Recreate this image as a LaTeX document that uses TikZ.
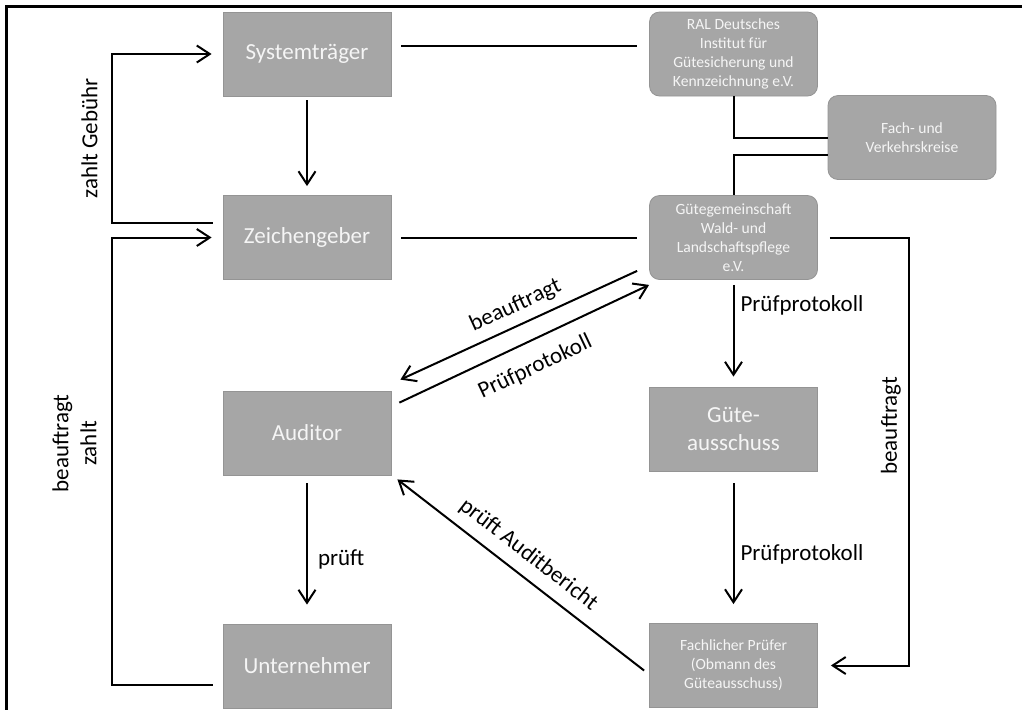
\documentclass[tikz,border=0pt]{standalone}
\usepackage{fontspec}
\setmainfont{Carlito}
\usetikzlibrary{arrows.meta}
\definecolor{boxgray}{HTML}{A6A6A6}
\definecolor{boxline}{HTML}{949494}
\definecolor{boxtext}{HTML}{F5F5F5}
\newcommand{\bigtxt}{\fontsize{11.5}{14}\selectfont}
\newcommand{\smalltxt}{\fontsize{7.8}{9.45}\selectfont}
\begin{document}
\begin{tikzpicture}[x=0.5pt,y=-0.5pt,
    box/.style={draw=boxline,fill=boxgray,text=boxtext,minimum width=84pt,
      minimum height=42pt,inner sep=0pt,align=center,font=\bigtxt},
    rbox/.style={box,rounded corners=5pt,font=\smalltxt},
    ln/.style={line width=1pt},
    arr/.style={ln,-{Straight Barb[length=6.5pt,width=8.5pt]}},
    lbl/.style={font=\bigtxt,text=black}]
  \useasboundingbox (0,0) rectangle (1022,709);
  \clip (0,0) rectangle (1022,709);
  \draw[line width=1.4pt] (6.5,6.5) rectangle (1040,730);
  \draw
    (307,54) node[box] (sys) {Systemträger}
    (307,237.5) node[box] (zei) {Zeichengeber}
    (307,433) node[box] (aud) {Auditor}
    (307,666) node[box] (unt) {Unternehmer}
    (733.5,54) node[rbox] (ral) {RAL Deutsches\\Institut für\\Gütesicherung und\\Kennzeichnung e.V.}
    (912,137.5) node[rbox] (fach) {Fach- und\\Verkehrskreise}
    (733.5,237.5) node[rbox] (gg) {Gütegemeinschaft\\Wald- und\\Landschaftspflege\\e.V.}
    (733.5,429) node[box] (ga) {Güte-\\ausschuss}
    (733.5,665.5) node[box,font=\smalltxt] (fp) {Fachlicher Prüfer\\(Obmann des\\Güteausschuss)};
  \begin{scope}[ln]
    \draw[shorten <=5pt,shorten >=6pt] ([yshift=4pt]sys.east) -- ([yshift=4pt]ral.west);
    \draw[shorten <=5pt,shorten >=6pt] (zei.east) -- (gg.west);
    \draw (ral.south) |- (fach.west);
    \draw ([yshift=-8.75pt]fach.west) -| (gg.north);
  \end{scope}
  \begin{scope}[arr]
    \draw[shorten <=2pt,shorten >=4.5pt] (sys) -- (zei);
    \draw[shorten <=4pt,shorten >=9.5pt] (aud) -- node[pos=0.57,right,lbl,inner xsep=5pt]{prüft} (unt);
    \draw[shorten <=2.5pt,shorten >=5pt] (gg) -- node[pos=0.24,right,lbl,inner xsep=3pt]{Prüfprotokoll} (ga);
    \draw[shorten <=6pt,shorten >=9.5pt] (ga) -- node[pos=0.55,right,lbl,inner xsep=3pt]{Prüfprotokoll} (fp);
    \draw[shorten <=6pt,shorten >=6.5pt] (gg.east) -- ++(91,0)
      |- node[pos=0.22,rotate=90,above,lbl,inner ysep=3.5pt]{beauftragt} (fp.east);
    \draw[shorten <=5pt,shorten >=5.5pt] ([yshift=7.25pt]zei.west) -- ++(-111,0)
      |- node[pos=0.25,rotate=90,above,lbl,inner ysep=6.5pt]{zahlt Gebühr} (sys.west);
    \draw[shorten <=5pt,shorten >=5.5pt] ([yshift=-9.5pt]unt.west) -- ++(-111,0)
      |- node[pos=0.27,rotate=90,above,lbl,align=center,inner ysep=7pt]{beauftragt\\zahlt} (zei.west);
    \draw ([shift={(-12,-9)}]gg.south west) -- node[pos=0.48,sloped,above,lbl,inner ysep=4.1pt]{beauftragt} ([shift={(9,-11)}]aud.north east);
    \draw ([shift={(8,12)}]aud.north east) -- node[pos=0.5,sloped,below,lbl,inner ysep=7.5pt]{Prüfprotokoll} ([shift={(0,5)}]gg.south west);
    \draw ([shift={(-5,5)}]fp.west) -- node[pos=0.52,sloped,above,lbl,inner ysep=5pt]{prüft Auditbericht} ([shift={(6,4)}]aud.south east);
  \end{scope}
\end{tikzpicture}
\end{document}
